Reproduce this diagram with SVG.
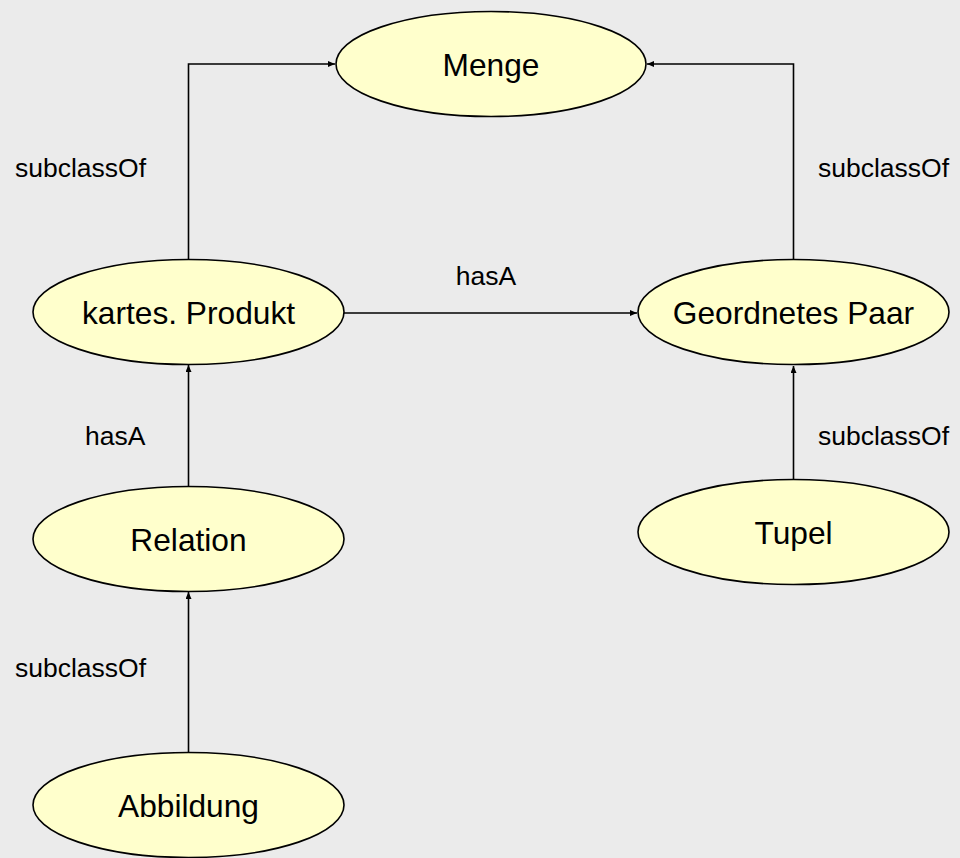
<svg xmlns="http://www.w3.org/2000/svg" width="960" height="858" viewBox="0 0 960 858">
<style>
.node ellipse{fill:#ffffcc;stroke:#000;stroke-width:1.6}
.node text{font-family:"Liberation Sans",Arial,sans-serif;font-size:31.7px;text-anchor:middle;fill:#000}
.edge{fill:none;stroke:#000;stroke-width:1.6;marker-end:url(#arr)}
.lbl{font-family:"Liberation Sans",Arial,sans-serif;font-size:26.5px;fill:#000}
</style>
<defs>
<marker id="arr" markerUnits="userSpaceOnUse" markerWidth="8" markerHeight="8" refX="7" refY="3" orient="auto">
<path d="M0,0 L7,3 L0,6 Z" fill="#000"/>
</marker>
</defs>
<rect width="960" height="858" fill="#ebebeb"/>
<g id="connectors">
<path class="edge" d="M188.5,260 V64 H335"/>
<path class="edge" d="M793.5,259 V64 H647"/>
<path class="edge" d="M344,313 H637"/>
<path class="edge" d="M188.5,487 V365"/>
<path class="edge" d="M793.5,479 V366"/>
<path class="edge" d="M188.5,752 V592"/>
<text class="lbl" x="15" y="177">subclassOf</text>
<text class="lbl" x="818" y="177">subclassOf</text>
<text class="lbl" x="486" y="285" text-anchor="middle">hasA</text>
<text class="lbl" x="85" y="445">hasA</text>
<text class="lbl" x="818" y="445">subclassOf</text>
<text class="lbl" x="15" y="677">subclassOf</text>
</g>
<g id="node-menge" class="node"><ellipse cx="491" cy="64" rx="155" ry="52.5"/><text x="491" y="76">Menge</text></g>
<g id="node-kartes" class="node"><ellipse cx="188.5" cy="312" rx="155.5" ry="52.5"/><text x="188.5" y="324">kartes. Produkt</text></g>
<g id="node-paar" class="node"><ellipse cx="793.5" cy="312" rx="155.5" ry="52.5"/><text x="793.5" y="324">Geordnetes Paar</text></g>
<g id="node-relation" class="node"><ellipse cx="188.5" cy="539" rx="155.5" ry="52.5"/><text x="188.5" y="551">Relation</text></g>
<g id="node-tupel" class="node"><ellipse cx="793.5" cy="532" rx="155.5" ry="52.5"/><text x="793.5" y="544">Tupel</text></g>
<g id="node-abbildung" class="node"><ellipse cx="188.5" cy="805" rx="155.5" ry="52.5"/><text x="188.5" y="817">Abbildung</text></g>
</svg>
